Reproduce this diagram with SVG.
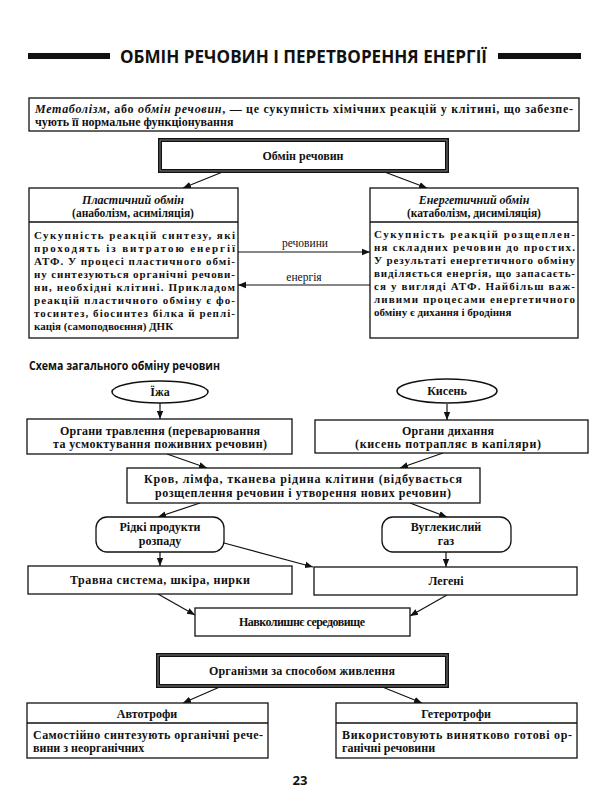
<svg xmlns="http://www.w3.org/2000/svg" width="600" height="800" viewBox="0 0 600 800">
<style>
.s{font-family:"Liberation Serif","DejaVu Serif",serif;fill:#111}
.b{font-weight:bold}
.i{font-style:italic}
.f12{font-size:12px}
.f11{font-size:11.5px}
.f10{font-size:11px}
.c{text-anchor:middle}
.box{fill:#fff;stroke:#111;stroke-width:1.3}
.dbl{fill:#fff;stroke:#111;stroke-width:4}
.dbli{fill:none;stroke:#999;stroke-width:0.8}
.con{fill:none;stroke:#111;stroke-width:1.2;marker-end:url(#ah)}
.sans{font-family:"Open Sans","Liberation Sans",sans-serif;font-weight:bold;fill:#111}
</style>
<defs>
<marker id="ah" viewBox="0 0 10 10" refX="10" refY="5" markerWidth="8" markerHeight="8" orient="auto" markerUnits="userSpaceOnUse">
<path d="M0,1 L10,5 L0,9 z" fill="#111"/>
</marker>
</defs>
<rect width="600" height="800" fill="#fff"/>

<g id="title">
<rect x="28" y="53" width="82" height="6" fill="#111"/>
<rect x="498" y="53" width="83" height="6" fill="#111"/>
<text class="sans" x="120" y="63" font-size="17" textLength="367" lengthAdjust="spacingAndGlyphs">ОБМІН РЕЧОВИН І ПЕРЕТВОРЕННЯ ЕНЕРГІЇ</text>
</g>

<g id="definition">
<rect class="box" x="29" y="98" width="550" height="33"/>
<text class="s b f12" x="35" y="113" textLength="538" lengthAdjust="spacing"><tspan class="i">Метаболізм</tspan>, або <tspan class="i">обмін речовин</tspan>, — це сукупність хімічних реакцій у клітині, що забезпе-</text>
<text class="s b f12" x="35" y="126">чують її нормальне функціонування</text>
</g>

<g id="connectors">
<line class="con" x1="225" y1="171" x2="183" y2="188"/>
<line class="con" x1="382" y1="171" x2="427" y2="188"/>
<line class="con" x1="238" y1="252" x2="370" y2="252"/>
<line class="con" x1="370" y1="285" x2="238" y2="285"/>
<line class="con" x1="160" y1="403" x2="160" y2="419"/>
<line class="con" x1="447" y1="404" x2="447" y2="420"/>
<line class="con" x1="167" y1="454" x2="207" y2="468"/>
<line class="con" x1="443" y1="453" x2="400" y2="468"/>
<line class="con" x1="200" y1="503" x2="158" y2="517"/>
<line class="con" x1="410" y1="503" x2="447" y2="517"/>
<line class="con" x1="160" y1="552" x2="160" y2="566"/>
<line class="con" x1="224" y1="543" x2="313" y2="567"/>
<line class="con" x1="446" y1="552" x2="446" y2="567"/>
<line class="con" x1="158" y1="594" x2="195" y2="615"/>
<line class="con" x1="447" y1="595" x2="410" y2="616"/>
<line class="con" x1="222" y1="686" x2="183" y2="703"/>
<line class="con" x1="380" y1="686" x2="422" y2="703"/>
<text class="s f11 c" x="305" y="247">речовини</text>
<text class="s f11 c" x="304" y="281">енергія</text>
</g>

<g id="obmin">
<rect class="dbl" x="160" y="140" width="287" height="31"/>
<rect class="dbli" x="160" y="140" width="287" height="31"/>
<text class="s b f12 c" x="303" y="160">Обмін речовин</text>
</g>

<g id="plastic">
<rect class="box" x="29" y="188" width="209" height="150"/>
<line x1="29" y1="222" x2="238" y2="222" stroke="#111" stroke-width="1.3"/>
<text class="s i f12 c" x="133" y="204" font-weight="600">Пластичний обмін</text>
<text class="s b f11 c" x="133" y="217">(анаболізм, асиміляція)</text>
<g class="s b f10">
<text x="34" y="239" textLength="201" lengthAdjust="spacing">Сукупність реакцій синтезу, які</text>
<text x="34" y="252" textLength="201" lengthAdjust="spacing">проходять із витратою енергії</text>
<text x="34" y="265" textLength="201" lengthAdjust="spacing">АТФ. У процесі пластичного обмі-</text>
<text x="34" y="278" textLength="201" lengthAdjust="spacing">ну синтезуються органічні речови-</text>
<text x="34" y="291" textLength="201" lengthAdjust="spacing">ни, необхідні клітині. Прикладом</text>
<text x="34" y="304" textLength="201" lengthAdjust="spacing">реакцій пластичного обміну є фо-</text>
<text x="34" y="317" textLength="201" lengthAdjust="spacing">тосинтез, біосинтез білка й реплі-</text>
<text x="34" y="330">кація (самоподвоєння) ДНК</text>
</g>
</g>

<g id="energetic">
<rect class="box" x="370" y="188" width="208" height="150"/>
<line x1="370" y1="222" x2="578" y2="222" stroke="#111" stroke-width="1.3"/>
<text class="s i f12 c" x="474" y="204" font-weight="600">Енергетичний обмін</text>
<text class="s b f11 c" x="474" y="217">(катаболізм, дисиміляція)</text>
<g class="s b f10">
<text x="374" y="238" textLength="201" lengthAdjust="spacing">Сукупність реакцій розщеплен-</text>
<text x="374" y="251" textLength="201" lengthAdjust="spacing">ня складних речовин до простих.</text>
<text x="374" y="264" textLength="201" lengthAdjust="spacing">У результаті енергетичного обміну</text>
<text x="374" y="277" textLength="201" lengthAdjust="spacing">виділяється енергія, що запасаєть-</text>
<text x="374" y="290" textLength="201" lengthAdjust="spacing">ся у вигляді АТФ. Найбільш важ-</text>
<text x="374" y="303" textLength="201" lengthAdjust="spacing">ливими процесами енергетичного</text>
<text x="374" y="316">обміну є дихання і бродіння</text>
</g>
</g>

<g id="schema-title">
<text class="sans" x="29" y="370" font-size="13" textLength="191" lengthAdjust="spacingAndGlyphs">Схема загального обміну речовин</text>
</g>

<g id="food">
<ellipse cx="160" cy="392" rx="48" ry="11" fill="#fff" stroke="#111" stroke-width="1.5"/>
<text class="s b f12 c" x="160" y="396">Їжа</text>
</g>
<g id="oxygen">
<ellipse cx="447" cy="391" rx="50" ry="12" fill="#fff" stroke="#111" stroke-width="1.5"/>
<text class="s b f12 c" x="447" y="395">Кисень</text>
</g>

<g id="digestion">
<rect class="box" x="27" y="419" width="265" height="35"/>
<text class="s b f12 c" x="160" y="435" textLength="200" lengthAdjust="spacing">Органи травлення (переварювання</text>
<text class="s b f12 c" x="160" y="448" textLength="214" lengthAdjust="spacing">та усмоктування поживних речовин)</text>
</g>

<g id="respiration">
<rect class="box" x="315" y="420" width="273" height="33"/>
<text class="s b f12 c" x="448" y="435" textLength="92" lengthAdjust="spacing">Органи дихання</text>
<text class="s b f12 c" x="448" y="448" textLength="186" lengthAdjust="spacing">(кисень потрапляє в капіляри)</text>
</g>

<g id="blood">
<rect class="box" x="127" y="468" width="353" height="35"/>
<text class="s b f12 c" x="303" y="483" textLength="318" lengthAdjust="spacing">Кров, лімфа, тканева рідина клітини (відбувається</text>
<text class="s b f12 c" x="303" y="497" textLength="296" lengthAdjust="spacing">розщеплення речовин і утворення нових речовин)</text>
</g>

<g id="liquid">
<rect class="box" x="96" y="517" width="128" height="35" rx="11"/>
<text class="s b f12 c" x="160" y="531">Рідкі продукти</text>
<text class="s b f12 c" x="160" y="545">розпаду</text>
</g>

<g id="co2">
<rect class="box" x="382" y="517" width="129" height="35" rx="11"/>
<text class="s b f12 c" x="446" y="531">Вуглекислий</text>
<text class="s b f12 c" x="446" y="545">газ</text>
</g>

<g id="excretory">
<rect class="box" x="28" y="566" width="264" height="28"/>
<text class="s b f12 c" x="160" y="584" textLength="180" lengthAdjust="spacing">Травна система, шкіра, нирки</text>
</g>

<g id="lungs">
<rect class="box" x="314" y="567" width="263" height="28"/>
<text class="s b f12 c" x="446" y="585">Легені</text>
</g>

<g id="environment">
<rect class="box" x="195" y="608" width="215" height="28"/>
<text class="s b f12 c" x="302" y="626" textLength="126" lengthAdjust="spacing">Навколишнє середовище</text>
</g>

<g id="organisms">
<rect class="dbl" x="158" y="655" width="289" height="31"/>
<rect class="dbli" x="158" y="655" width="289" height="31"/>
<text class="s b f12 c" x="302" y="675" textLength="186" lengthAdjust="spacing">Організми за способом живлення</text>
</g>

<g id="autotrophs">
<rect class="box" x="27" y="703" width="241" height="55"/>
<line x1="27" y1="723" x2="268" y2="723" stroke="#111" stroke-width="1.3"/>
<text class="s b f12 c" x="147" y="718">Автотрофи</text>
<text class="s b f12" x="33" y="739" textLength="230" lengthAdjust="spacing">Самостійно синтезують органічні рече-</text>
<text class="s b f12" x="33" y="752">вини з неорганічних</text>
</g>

<g id="heterotrophs">
<rect class="box" x="336" y="703" width="241" height="55"/>
<line x1="336" y1="723" x2="577" y2="723" stroke="#111" stroke-width="1.3"/>
<text class="s b f12 c" x="456" y="718">Гетеротрофи</text>
<text class="s b f12" x="342" y="739" textLength="230" lengthAdjust="spacing">Використовують винятково готові ор-</text>
<text class="s b f12" x="342" y="752">ганічні речовини</text>
</g>

<g id="page">
<text class="sans c" x="300" y="785" font-size="13">23</text>
</g>
</svg>
